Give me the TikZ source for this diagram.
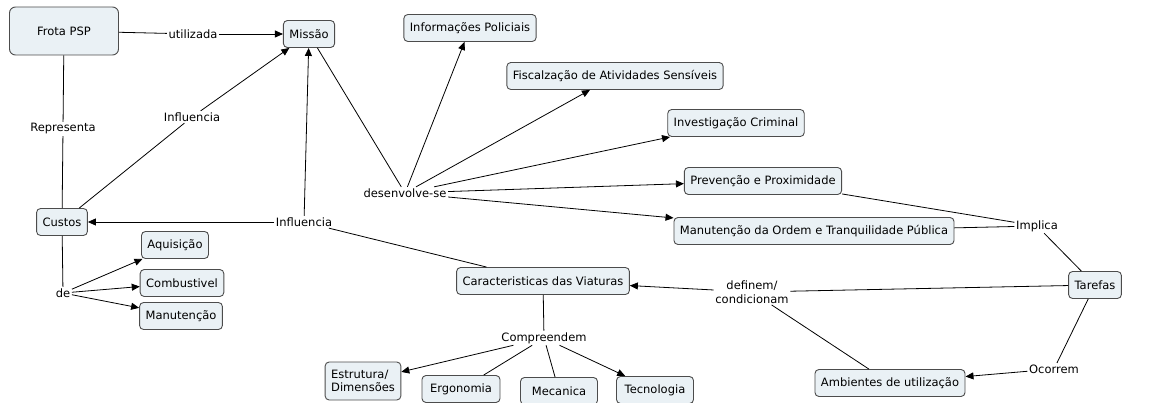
\documentclass[tikz,border=0pt]{standalone}
\usepackage{fontspec}
\setmainfont{DejaVu Sans}
\usepackage{tikz}
\usetikzlibrary{arrows.meta,positioning}
\definecolor{caixa}{RGB}{234,241,245}

\begin{document}
\begin{tikzpicture}[x=1pt, y=-1pt, font=\fontsize{11.5}{13.5}\selectfont,
  conceito/.style={draw=black!70, line width=0.9pt, rounded corners=4pt, align=center,
               inner xsep=6pt, minimum height=27pt, fill=caixa},
  ligacao/.style={inner sep=1.5pt, align=center},
  seta/.style={-{Triangle[length=8pt,width=7pt]}, line width=0.8pt},
  linha/.style={line width=0.8pt}]
\useasboundingbox (0,0) rectangle (1156,403);
% conceitos
\node[conceito, minimum width=109pt, minimum height=48pt, rounded corners=6pt] (frota) at (64,31) {Frota PSP};
\node[conceito] (missao) at (309,34) {Missão};
\node[conceito] (infpol) at (470,28) {Informações Policiais};
\node[conceito] (fisc) at (615,76) {Fiscalzação de Atividades Sensíveis};
\node[conceito] (invest) at (736,123) {Investigação Criminal};
\node[conceito] (prev) at (763,181) {Prevenção e Proximidade};
\node[conceito] (ordem) at (814,231) {Manutenção da Ordem e Tranquilidade Pública};
\node[conceito] (tarefas) at (1095,285) {Tarefas};
\node[conceito] (ambientes) at (890,383) {Ambientes de utilização};
\node[conceito] (caract) at (543,281) {Caracteristicas das Viaturas};
\node[conceito, align=left, minimum height=38pt] (estrut) at (363,381) {Estrutura/\\Dimensões};
\node[conceito, minimum width=78pt] (ergo) at (461,389) {Ergonomia};
\node[conceito, minimum width=77pt] (mec) at (559,391) {Mecanica};
\node[conceito, minimum width=77pt] (tec) at (655,390) {Tecnologia};
\node[conceito] (custos) at (62,222) {Custos};
\node[conceito] (aquis) at (175,245) {Aquisição};
\node[conceito] (comb) at (182,283) {Combustivel};
\node[conceito] (manut) at (181,316) {Manutenção};
% frases de ligacao
\node[ligacao] (lutil) at (193,34) {utilizada};
\node[ligacao] (lrep) at (63,129) {Representa};
\node[ligacao] (linf) at (192,117) {Influencia};
\node[ligacao] (linfb) at (304,222) {Influencia};
\node[ligacao] (lde) at (63,293) {de};
\node[ligacao] (ldes) at (405,193) {desenvolve-se};
\node[ligacao] (limp) at (1037,226) {Implica};
\node[ligacao] (ldef) at (752,292) {definem/\\condicionam};
\node[ligacao] (locor) at (1054,369) {Ocorrem};
\node[ligacao] (lcomp) at (544,338) {Compreendem};
% ligacoes
\draw[linha] (frota) -- (lutil);
\draw[seta] (lutil) -- (missao);
\draw[linha] (frota) -- (lrep);
\draw[linha] (lrep) -- (custos);
\draw[linha] (custos) -- (linf);
\draw[seta] (linf) -- (missao);
\draw[linha] (custos) -- (lde);
\draw[seta] (lde) -- (aquis);
\draw[seta] (lde) -- (comb);
\draw[seta] (lde) -- (manut);
\draw[linha] (caract) -- (linfb);
\draw[seta] (linfb) -- (missao);
\draw[seta] (linfb) -- (custos);
\draw[linha] (missao) -- (ldes);
\draw[seta] (ldes) -- (infpol);
\draw[seta] (ldes) -- (fisc);
\draw[seta] (ldes) -- (invest);
\draw[seta] (ldes) -- (prev);
\draw[seta] (ldes) -- (ordem);
\draw[linha] (prev) -- (limp);
\draw[linha] (ordem) -- (limp);
\draw[linha] (limp) -- (tarefas);
\draw[linha] (tarefas) -- (ldef);
\draw[linha] (ambientes) -- (ldef);
\draw[seta] (ldef) -- (caract);
\draw[linha] (tarefas) -- (locor);
\draw[seta] (locor) -- (ambientes);
\draw[linha] (caract) -- (lcomp);
\draw[seta] (lcomp) -- (estrut);
\draw[linha] (lcomp) -- (ergo);
\draw[linha] (lcomp) -- (mec);
\draw[seta] (lcomp) -- (tec);
\end{tikzpicture}
\end{document}
